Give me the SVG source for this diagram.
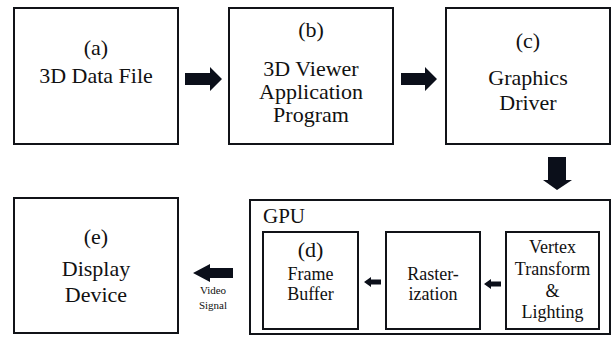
<svg xmlns="http://www.w3.org/2000/svg" width="613" height="337" viewBox="0 0 613 337" font-family="'Liberation Serif', 'DejaVu Serif', serif">
<style>
.box{fill:#fff;stroke:#111318;stroke-width:2}
.arr{fill:#0b0f1a}
text{font-family:'Liberation Serif','DejaVu Serif',serif;fill:#111;text-anchor:middle}
.big{font-size:22px}
.mid{font-size:18px}
.sm{font-size:11px}
</style>
<rect width="613" height="337" fill="#fff"/>
<g id="node-a">
<rect class="box" x="14" y="8" width="164" height="136"/>
<text class="big" x="96" y="55">(a)</text>
<text class="big" x="96" y="83">3D Data File</text>
</g>
<g id="node-b">
<rect class="box" x="229" y="8" width="164" height="136"/>
<text class="big" x="311" y="37">(b)</text>
<text class="big" x="311" y="76">3D Viewer</text>
<text class="big" x="311" y="99">Application</text>
<text class="big" x="311" y="122">Program</text>
</g>
<g id="node-c">
<rect class="box" x="446" y="8" width="164" height="136"/>
<text class="big" x="528" y="48">(c)</text>
<text class="big" x="528" y="85">Graphics</text>
<text class="big" x="528" y="110">Driver</text>
</g>
<g id="node-e">
<rect class="box" x="14" y="198" width="164" height="135"/>
<text class="big" x="96" y="244">(e)</text>
<text class="big" x="96" y="276">Display</text>
<text class="big" x="96" y="302">Device</text>
</g>
<g id="node-gpu">
<rect class="box" x="250" y="200" width="360" height="134"/>
<text x="263" y="223" style="font-size:21px;text-anchor:start">GPU</text>
</g>
<g id="node-d">
<rect class="box" x="263" y="232" width="95" height="97"/>
<text class="big" x="310.5" y="257">(d)</text>
<text class="mid" x="310.5" y="280">Frame</text>
<text class="mid" x="310.5" y="300">Buffer</text>
</g>
<g id="node-raster">
<rect class="box" x="386" y="232" width="94" height="97"/>
<text class="mid" x="433" y="280">Raster-</text>
<text class="mid" x="433" y="300">ization</text>
</g>
<g id="node-vertex">
<rect class="box" x="506" y="232" width="93" height="97"/>
<text class="mid" x="552.5" y="253">Vertex</text>
<text class="mid" x="552.5" y="275">Transform</text>
<text class="mid" x="552.5" y="297">&amp;</text>
<text class="mid" x="552.5" y="318">Lighting</text>
</g>
<g id="connectors">
<polygon class="arr" points="185,73 210,73 210,67 222,79 210,91 210,85 185,85"/>
<polygon class="arr" points="401,73 425,73 425,67 437,79 425,91 425,85 401,85"/>
<polygon class="arr" points="548,157 566,157 566,180 572,180 557,190 543,180 548,180"/>
<polygon class="arr" points="233,268 210,268 210,264 193,273 210,282 210,278 233,278"/>
<polygon class="arr" points="381,279.5 371,279.5 371,277 364,282 371,287 371,284.5 381,284.5"/>
<polygon class="arr" points="501,281.5 491,281.5 491,279 484,284 491,289 491,286.5 501,286.5"/>
<text class="sm" x="213" y="294">Video</text>
<text class="sm" x="213" y="309">Signal</text>
</g>
</svg>
